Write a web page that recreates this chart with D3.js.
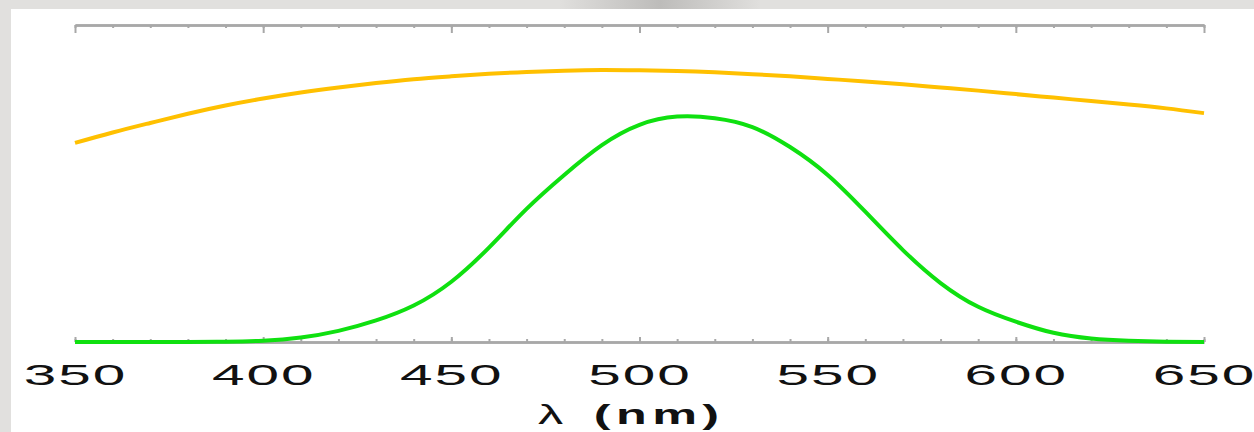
<!DOCTYPE html>
<html>
<head>
<meta charset="utf-8">
<script src="https://cdn.jsdelivr.net/npm/d3@7"></script>
<style>
  html, body { margin: 0; padding: 0; background: #fff; }
  svg { display: block; }
  text { font-family: "Liberation Sans", Arial, sans-serif; fill: #111; }
</style>
</head>
<body>
<svg id="chart"></svg>
<script>
// wavelength grid (nm)
const wavelengths = [350, 360, 370, 380, 390, 400, 410, 420, 430, 440, 450, 460, 470, 480, 490, 500,
  510, 520, 530, 540, 550, 560, 570, 580, 590, 600, 610, 620, 630, 640, 650];

// orange curve (relative units)
const orangeValues = [0.628, 0.661, 0.691, 0.720, 0.746, 0.768, 0.787, 0.803, 0.817, 0.829, 0.838,
  0.846, 0.852, 0.856, 0.858, 0.857, 0.855, 0.851, 0.845, 0.838, 0.830, 0.822, 0.813, 0.803,
  0.793, 0.782, 0.771, 0.760, 0.749, 0.737, 0.722];

// green curve (relative units)
const greenValues = [0, 0, 0, 0, 0.001, 0.004, 0.014, 0.035, 0.068, 0.115, 0.19, 0.298, 0.42,
  0.527, 0.621, 0.685, 0.711, 0.706, 0.678, 0.615, 0.527, 0.411, 0.290, 0.186, 0.111, 0.064,
  0.029, 0.011, 0.004, 0.001, 0];

const majorTicks = [350, 400, 450, 500, 550, 600, 650];
const minorTicks = d3.range(350, 651, 10);
const xTitleSymbol = "λ";
const xTitleUnit = "(nm)";

const W = 1254, H = 432;
const margin = { top: 25, right: 50, bottom: 90, left: 75 };

const svg = d3.select('#chart')
  .attr('width', W)
  .attr('height', H);

// grey frame around the panel
const defs = svg.append('defs');
const smudge = defs.append('linearGradient').attr('id', 'smudge');
smudge.append('stop').attr('offset', '0%').attr('stop-color', '#e0dfdd');
smudge.append('stop').attr('offset', '50%').attr('stop-color', '#bdbcba');
smudge.append('stop').attr('offset', '100%').attr('stop-color', '#e0dfdd');

svg.append('rect').attr('width', W).attr('height', H).attr('fill', '#fff');
svg.append('rect').attr('width', W).attr('height', 9).attr('fill', '#e1e0de');
svg.append('rect').attr('x', 560).attr('width', 200).attr('height', 9).attr('fill', 'url(#smudge)');
svg.append('rect').attr('width', 11).attr('height', H).attr('fill', '#e1e0de');

const x = d3.scaleLinear()
  .domain([350, 650])
  .range([margin.left, W - margin.right]);

const y = d3.scaleLinear()
  .domain([0, 1])
  .range([H - margin.bottom, margin.top]);

const axisColor = '#a8a8a8';

function styleAxis(g) {
  g.select('.domain').attr('stroke', axisColor).attr('stroke-width', 2.5);
  g.selectAll('.tick line').attr('stroke', axisColor).attr('stroke-width', 2);
}

// top axis
svg.append('g')
  .attr('transform', `translate(0, ${y(1)})`)
  .call(d3.axisBottom(x).tickValues(minorTicks).tickSize(3).tickSizeOuter(0).tickFormat(''))
  .call(styleAxis);
svg.append('g')
  .attr('transform', `translate(0, ${y(1)})`)
  .call(d3.axisBottom(x).tickValues(majorTicks).tickSize(8).tickSizeOuter(0).tickFormat(''))
  .call(styleAxis);

// bottom axis
svg.append('g')
  .attr('transform', `translate(0, ${y(0)})`)
  .call(d3.axisTop(x).tickValues(minorTicks).tickSize(3).tickSizeOuter(0).tickFormat(''))
  .call(styleAxis);
const bottom = svg.append('g')
  .attr('transform', `translate(0, ${y(0)})`)
  .call(d3.axisTop(x).tickValues(majorTicks).tickSize(5).tickSizeOuter(0).tickPadding(0))
  .call(styleAxis);

bottom.selectAll('.tick text')
  .attr('y', 43)
  .attr('dy', 0)
  .attr('font-size', 30)
  .attr('fill', '#1a1a1a')
  .attr('letter-spacing', 1)
  .attr('text-anchor', 'middle')
  .attr('transform', 'scale(1.95,1)');

// x title: thin lambda, bold unit
const title = svg.append('text')
  .attr('transform', 'translate(538, 424) scale(1.8,1)')
  .attr('font-size', 28);
title.append('tspan')
  .attr('x', 0)
  .text(xTitleSymbol);
title.append('tspan')
  .attr('x', 31)
  .attr('font-weight', 'bold')
  .attr('letter-spacing', 3)
  .text(xTitleUnit);

const line = d3.line()
  .x(d => x(d[0]))
  .y(d => y(d[1]))
  .curve(d3.curveNatural);

svg.append('path')
  .datum(d3.zip(wavelengths, orangeValues))
  .attr('fill', 'none')
  .attr('stroke', '#ffc000')
  .attr('stroke-width', 4)
  .attr('d', line);

svg.append('path')
  .datum(d3.zip(wavelengths, greenValues))
  .attr('fill', 'none')
  .attr('stroke', '#0fe010')
  .attr('stroke-width', 4)
  .attr('d', line);
</script>
</body>
</html>
